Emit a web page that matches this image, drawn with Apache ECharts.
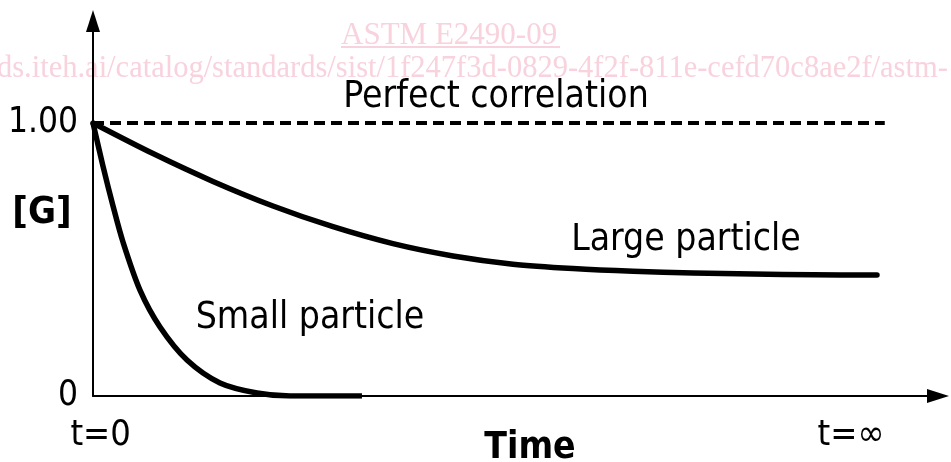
<!DOCTYPE html>
<html>
<head>
<meta charset="utf-8">
<script src="https://cdn.jsdelivr.net/npm/echarts@6/dist/echarts.min.js"></script>
<style>
html,body{margin:0;padding:0;background:#fff;}
#chart{width:951px;height:462px;}
</style>
</head>
<body>
<div id="chart"></div>
<script>
// ---- data ----
var largeX = [0, 7.10, 14.20, 21.30, 28.40, 35.50, 42.60, 49.70, 56.80, 63.91, 71.01, 78.11, 85.21, 92.78];
var largeY = [1.0, 0.888, 0.786, 0.696, 0.620, 0.558, 0.513, 0.483, 0.467, 0.457, 0.451, 0.447, 0.444, 0.443];
var smallX = [0, 1.18, 2.37, 3.55, 5.56, 7.93, 11.12, 15.03, 19.41, 23.31, 31.83];
var smallY = [1.0, 0.842, 0.696, 0.564, 0.388, 0.253, 0.132, 0.048, 0.011, 0, 0];
var perfectX = [0, 93.7];
var perfectY = [1.0, 1.0];
var yTickValues = [0, 1];
var yTickLabels = ['0', '1.00'];
var xTickValues = [0.9, 89.7];
var xTickLabels = ['t=0', 't=\u221e'];
var seriesNames = ['Perfect correlation', 'Large particle', 'Small particle'];
var xAxisName = 'Time';
var yAxisName = '[G]';
var watermarkTitle = 'ASTM E2490-09';
var watermarkUrl = 'ds.iteh.ai/catalog/standards/sist/1f247f3d-0829-4f2f-811e-cefd70c8ae2f/astm-';

function zip(xs, ys) { return xs.map(function (x, i) { return [x, ys[i]]; }); }

var FONT = '"DejaVu Sans Condensed", "DejaVu Sans", sans-serif';
var PINK = '#f8d2dc';

var chart = echarts.init(document.getElementById('chart'), null, {renderer: 'canvas'});
chart.setOption({
  animation: false,
  backgroundColor: '#fff',
  grid: {left: 93, right: 13, top: 21, bottom: 66, containLabel: false},
  xAxis: {
    type: 'value', min: 0, max: 100,
    splitLine: {show: false},
    axisLine: {show: true, lineStyle: {color: '#000', width: 2}, symbol: ['none', 'triangle'], symbolSize: [14, 22]},
    axisTick: {show: false},
    axisLabel: {
      customValues: xTickValues,
      formatter: function (v) { var i = xTickValues.indexOf(v); return i >= 0 ? xTickLabels[i] : ''; },
      color: '#000', fontFamily: FONT, fontSize: 36, margin: 22
    }
  },
  yAxis: {
    type: 'value', min: 0, max: (396 - 21) / 273,
    splitLine: {show: false},
    axisLine: {show: true, lineStyle: {color: '#000', width: 2}, symbol: ['none', 'triangle'], symbolSize: [14, 22]},
    axisTick: {show: false},
    axisLabel: {
      customValues: yTickValues,
      formatter: function (v) { var i = yTickValues.indexOf(v); return i >= 0 ? yTickLabels[i] : ''; },
      color: '#000', fontFamily: FONT, fontSize: 35, margin: 15
    }
  },
  series: [
    {
      name: seriesNames[0], type: 'line', data: zip(perfectX, perfectY), symbol: 'none',
      lineStyle: {color: '#000', width: 4, type: [11, 6]}, z: 3
    },
    {
      name: seriesNames[1], type: 'line', data: zip(largeX, largeY), symbol: 'none', smooth: 0.3,
      lineStyle: {color: '#000', width: 5.5, cap: 'round', join: 'round'}, z: 4
    },
    {
      name: seriesNames[2], type: 'line', data: zip(smallX, smallY), symbol: 'none', smooth: 0.3,
      lineStyle: {color: '#000', width: 5.5, join: 'round'}, z: 4
    }
  ],
  graphic: [
    {type: 'text', left: 341, top: 20, z: 0, style: {text: watermarkTitle, fill: PINK, font: '31px "Liberation Serif", serif'}},
    {type: 'rect', shape: {x: 341, y: 46, width: 219, height: 2}, style: {fill: PINK}, z: 0},
    {type: 'text', x: -3, y: 53, z: 0, style: {text: watermarkUrl, fill: PINK, font: '30.5px "Liberation Serif", serif'}},
    {type: 'text', x: 496, y: 97, z: 10, style: {text: seriesNames[0], fill: '#000', font: '37px ' + FONT, align: 'center', verticalAlign: 'middle'}},
    {type: 'text', x: 686, y: 240, z: 10, style: {text: seriesNames[1], fill: '#000', font: '37px ' + FONT, align: 'center', verticalAlign: 'middle'}},
    {type: 'text', x: 310, y: 318, z: 10, style: {text: seriesNames[2], fill: '#000', font: '37px ' + FONT, align: 'center', verticalAlign: 'middle'}},
    {type: 'text', x: 530, y: 448, z: 10, style: {text: xAxisName, fill: '#000', font: 'bold 37px ' + FONT, align: 'center', verticalAlign: 'middle'}},
    {type: 'text', x: 42, y: 213, z: 10, style: {text: yAxisName, fill: '#000', font: 'bold 38px ' + FONT, align: 'center', verticalAlign: 'middle'}}
  ]
});
</script>
</body>
</html>
